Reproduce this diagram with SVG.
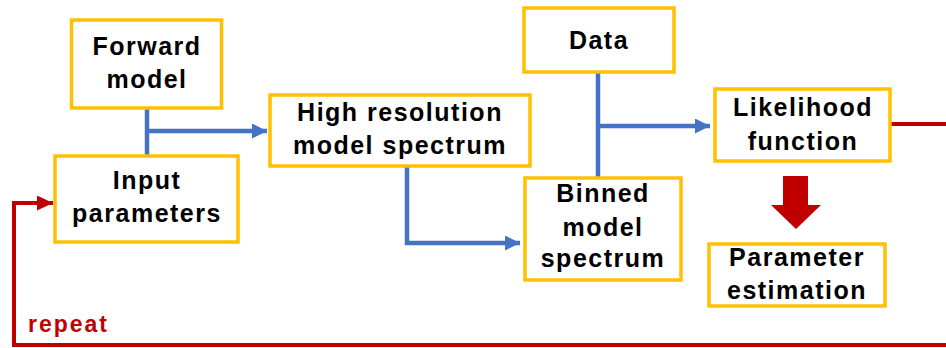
<svg xmlns="http://www.w3.org/2000/svg" width="946" height="348" viewBox="0 0 946 348">
<style>
.box{fill:#fff;stroke:#FFC000;stroke-width:3.5}
.t{font-family:"Liberation Sans",Arial,sans-serif;font-weight:bold;font-size:25px;letter-spacing:1.5px;fill:#000;text-anchor:middle}
.blue{fill:none;stroke:#4472C4;stroke-width:4.5}
.red{fill:none;stroke:#C00000;stroke-width:4}
</style>
<defs>
<marker id="ab" markerUnits="userSpaceOnUse" markerWidth="16" markerHeight="16" refX="15" refY="7.5" orient="auto"><path d="M0,0 L15,7.5 L0,15 Z" fill="#4472C4"/></marker>
<marker id="ar" markerUnits="userSpaceOnUse" markerWidth="17" markerHeight="17" refX="16" refY="7.5" orient="auto"><path d="M0,0 L16,7.5 L0,15 Z" fill="#C00000"/></marker>
</defs>
<rect width="946" height="348" fill="#fff"/>
<g id="connectors">
<path class="blue" d="M147,108 V156"/>
<path class="blue" d="M147,131 H267" marker-end="url(#ab)"/>
<path class="blue" d="M407,166 V243 H520" marker-end="url(#ab)"/>
<path class="blue" d="M598,72 V178"/>
<path class="blue" d="M598,126 H710" marker-end="url(#ab)"/>
<path class="red" d="M891,124 H946"/>
<path class="red" d="M946,345 H14 V203 H53" marker-end="url(#ar)"/>
<path d="M783,176 H808 V205 H821 L796,229 L771,205 H783 Z" fill="#C00000"/>
<text x="28" y="332" style="font-family:'Liberation Sans',Arial,sans-serif;font-weight:bold;font-size:23px;letter-spacing:2px;fill:#C00000">repeat</text>
</g>
<g id="forward">
<rect class="box" x="71.5" y="20" width="150" height="88"/>
<text class="t" x="147" y="55">Forward</text>
<text class="t" x="147" y="88">model</text>
</g>
<g id="input">
<rect class="box" x="55" y="156" width="183" height="86"/>
<text class="t" x="147" y="189">Input</text>
<text class="t" x="147" y="222">parameters</text>
</g>
<g id="highres">
<rect class="box" x="270" y="95" width="260" height="71"/>
<text class="t" x="400" y="121">High resolution</text>
<text class="t" x="400" y="154">model spectrum</text>
</g>
<g id="data">
<rect class="box" x="524" y="8" width="150" height="64"/>
<text class="t" x="599" y="49">Data</text>
</g>
<g id="binned">
<rect class="box" x="525" y="178" width="156" height="102"/>
<text class="t" x="603" y="202">Binned</text>
<text class="t" x="603" y="236">model</text>
<text class="t" x="603" y="267">spectrum</text>
</g>
<g id="likelihood">
<rect class="box" x="715" y="89" width="175" height="72"/>
<text class="t" x="803" y="116">Likelihood</text>
<text class="t" x="803" y="150">function</text>
</g>
<g id="estimation">
<rect class="box" x="709" y="244" width="176" height="62"/>
<text class="t" x="797" y="266">Parameter</text>
<text class="t" x="797" y="299">estimation</text>
</g>
</svg>
